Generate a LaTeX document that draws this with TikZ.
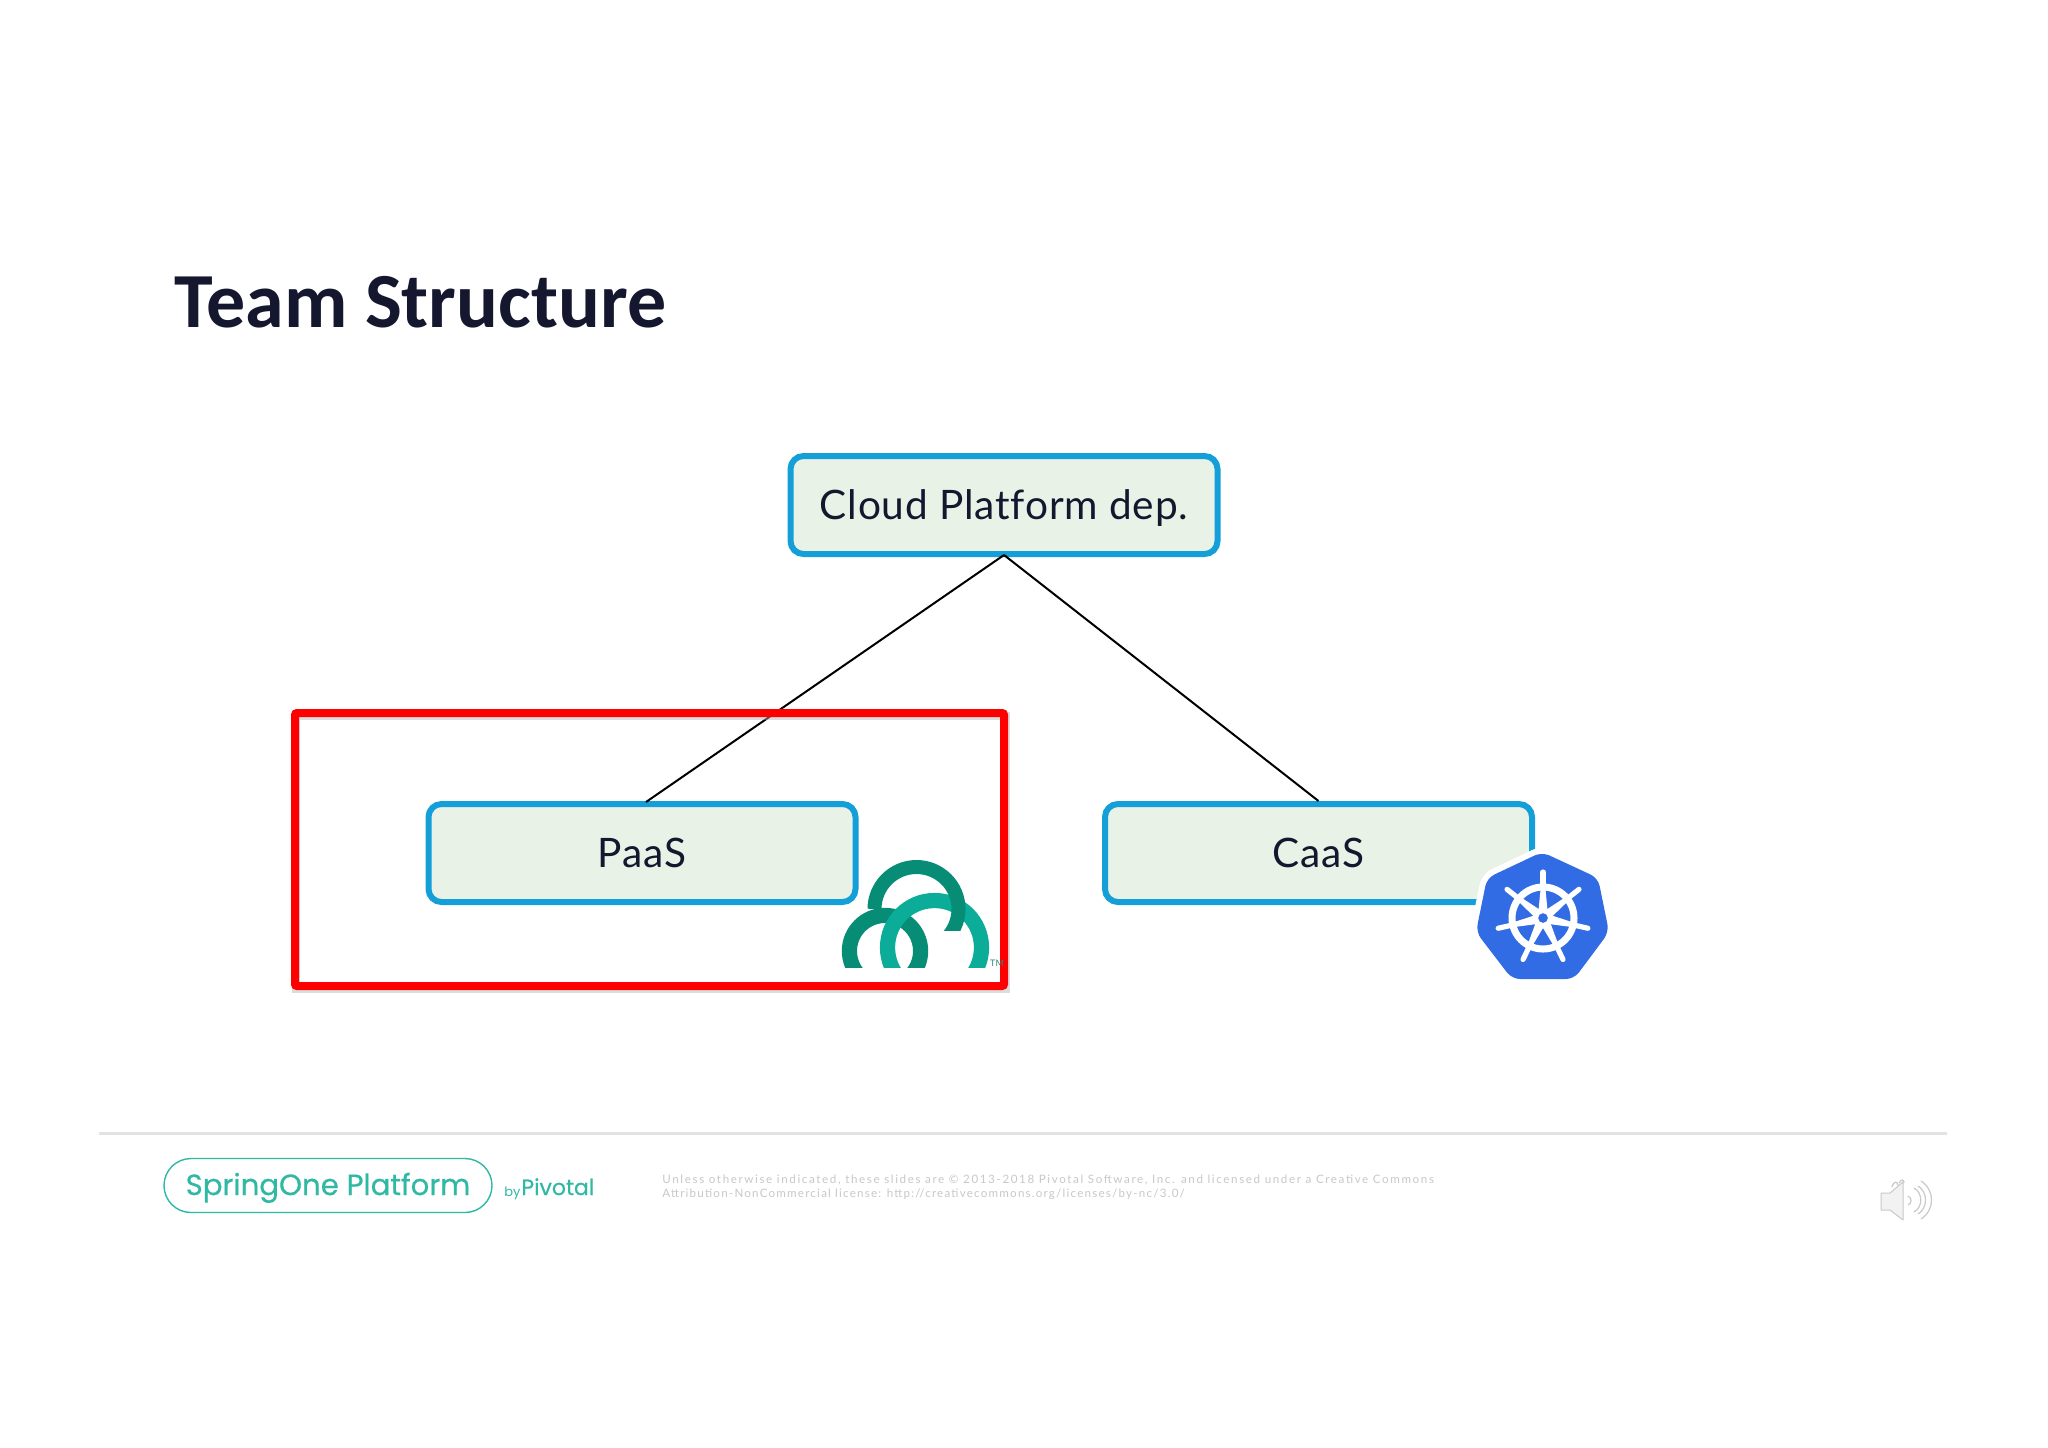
\documentclass[tikz,border=0pt]{standalone}
\usepackage{fontspec}
\setmainfont{Lato}
\newfontfamily\boxfont[Ligatures=NoCommon,LetterSpace=2]{Lato}
\newfontfamily\titlefont{Carlito}
\newfontfamily\brandfont[FakeBold=0.5]{Poppins}
\newfontfamily\brandlight{Poppins}
\newfontfamily\legalfont[LetterSpace=14]{Lato}
\newfontfamily\legalfonttwo[LetterSpace=10.5]{Lato}
\usetikzlibrary{calc}
\definecolor{boxblue}{HTML}{149FD9}
\definecolor{boxfill}{HTML}{E8F2E6}
\definecolor{inkdark}{HTML}{14172E}
\definecolor{pivdark}{HTML}{078C75}
\definecolor{pivteal}{HTML}{0BAD99}
\definecolor{springteal}{HTML}{2FB8A4}
\definecolor{k8sblue}{HTML}{326CE5}
\definecolor{legalgrey}{HTML}{C8C8CC}
\definecolor{iconline}{HTML}{C9C9C9}
\tikzset{
  teambox/.style={draw=boxblue,fill=boxfill,line width=3pt,rounded corners=6.5pt,
    minimum width=213.5pt,minimum height=49pt,inner sep=0pt,
    text=inkdark,font=\boxfont\fontsize{20.3}{24}\selectfont,text height=14.5pt,text depth=0pt},
  link/.style={draw=black,line width=1pt},
  legal/.style={anchor=base west,inner sep=0pt,text=legalgrey},
  iconarc/.style={draw=iconline,line width=0.6pt,fill=none}
}
\begin{document}
\begin{tikzpicture}[x=0.5pt,y=-0.5pt]
\useasboundingbox (0,0) rectangle (2048,1447);
\fill[white] (0,0) rectangle (2048,1447);
% title
\node (title) [anchor=base west,inner sep=0pt,text=inkdark,font=\titlefont\bfseries\fontsize{39}{46}\selectfont] at (174,327.5) {Team Structure};
% boxes
\node (cloud) [teambox] at (1004,505) {Cloud Platform dep.};
\node (paas) [teambox] at (642,853) {PaaS};
\node (caas) [teambox] at (1318.5,853) {CaaS};
% connectors
\coordinate (paastop) at (646,802);
\draw[link] ([yshift=1pt]cloud.south) -- (paastop);
\draw[link] ([yshift=1pt]cloud.south) -- (caas.north);
% red highlight
\draw[black!30,opacity=.45,line width=4pt] (296,716) rectangle (1006,989);
\draw[red,line width=4pt,rounded corners=1pt] (295,713) rectangle (1004,986);
% Pivotal logo
\begin{scope}
\clip (830,850) rectangle (1000,967);
\draw[pivdark,line width=7.6pt] (885,951) circle[radius=17.8pt];
\draw[pivteal,line width=7.6pt] (934.5,947.5) circle[radius=23.5pt];
\end{scope}
\begin{scope}
\clip (850,850) rectangle (1000,930);
\draw[pivdark,line width=7pt] (874.5,909) arc[start angle=180,end angle=-50,radius=21pt];
\end{scope}
\node (tm) [inner sep=0pt,text=pivdark!70!gray,font=\fontsize{4.5}{5}\selectfont] at (997,963) {TM};
% Kubernetes logo
\coordinate (kc) at (1543,918);
\draw[white,line width=6pt,fill=white,rounded corners=4pt]
  (1542,852) -- (1598,878) -- (1609,932) -- (1574,979) -- (1512,979) -- (1476,932) -- (1487,878) -- cycle;
\fill[k8sblue,rounded corners=4pt]
  (1542,852) -- (1598,878) -- (1609,932) -- (1574,979) -- (1512,979) -- (1476,932) -- (1487,878) -- cycle;
\draw[white,line width=3.5pt] (kc) circle[radius=15.5pt];
\foreach \a in {90,38.57,-12.86,-64.29,-115.71,-167.14,141.43}{
  \fill[white,shift={(kc)},rotate=\a] (0pt,2.6pt) -- (17pt,1pt) -- (17pt,-1pt) -- (0pt,-2.6pt) -- cycle;
  \draw[white,line width=2.6pt,line cap=round,shift={(kc)},rotate=\a] (15pt,0pt) -- (23pt,0pt);
}
\fill[white] (kc) circle[radius=4.8pt];
\fill[k8sblue] (kc) circle[radius=2.4pt];
% footer
\draw[black!11,line width=1.5pt] (99,1133) -- (1947,1133);
\node (pill) [draw=springteal,line width=0.7pt,rounded corners=13.5pt,minimum width=164pt,minimum height=27pt,inner sep=0pt] at (328,1185.5) {};
\node (spring) [anchor=base,inner sep=0pt,text=springteal,font=\brandfont\fontsize{14.6}{18}\selectfont] at (328,1195) {SpringOne Platform};
\node (by) [anchor=base west,inner sep=0pt,text=springteal,font=\brandlight\fontsize{6.5}{8}\selectfont] at (504,1196) {by};
\node (pivotal) [anchor=base west,inner sep=0pt,text=springteal,font=\brandfont\fontsize{11}{12}\selectfont] at (521,1195) {Pivotal};
\node (legalone) [legal,font=\legalfont\fontsize{5.8}{7}\selectfont] at (662,1183.5) {Unless otherwise indicated, these slides are © 2013-2018 Pivotal Software, Inc. and licensed under a Creative Commons};
\node (legaltwo) [legal,font=\legalfonttwo\fontsize{5.8}{7}\selectfont] at (662,1197.5) {Attribution-NonCommercial license: http://creativecommons.org/licenses/by-nc/3.0/};
% speaker icon
\draw[iconline,line width=0.5pt,fill=black!5,line join=round] (1881,1193) -- (1890,1193) -- (1903,1182) -- (1903,1220) -- (1890,1210) -- (1881,1210) -- cycle;
\draw[iconarc] (1892,1187) .. controls (1893,1182) and (1897,1180) .. (1898,1185);
\draw[iconarc] (1899,1183) .. controls (1901,1179) and (1904,1179) .. (1904,1183);
\draw[iconarc] (1908,1196) .. controls (1912,1198) and (1912,1203) .. (1908,1205);
\draw[iconarc] (1914,1188) .. controls (1923,1193) and (1923,1207) .. (1914,1212);
\draw[iconarc] (1921,1181) .. controls (1935,1190) and (1935,1210) .. (1921,1219);
\draw[iconarc] (1918,1186) .. controls (1928,1192) and (1928,1208) .. (1918,1214);
\end{tikzpicture}
\end{document}
